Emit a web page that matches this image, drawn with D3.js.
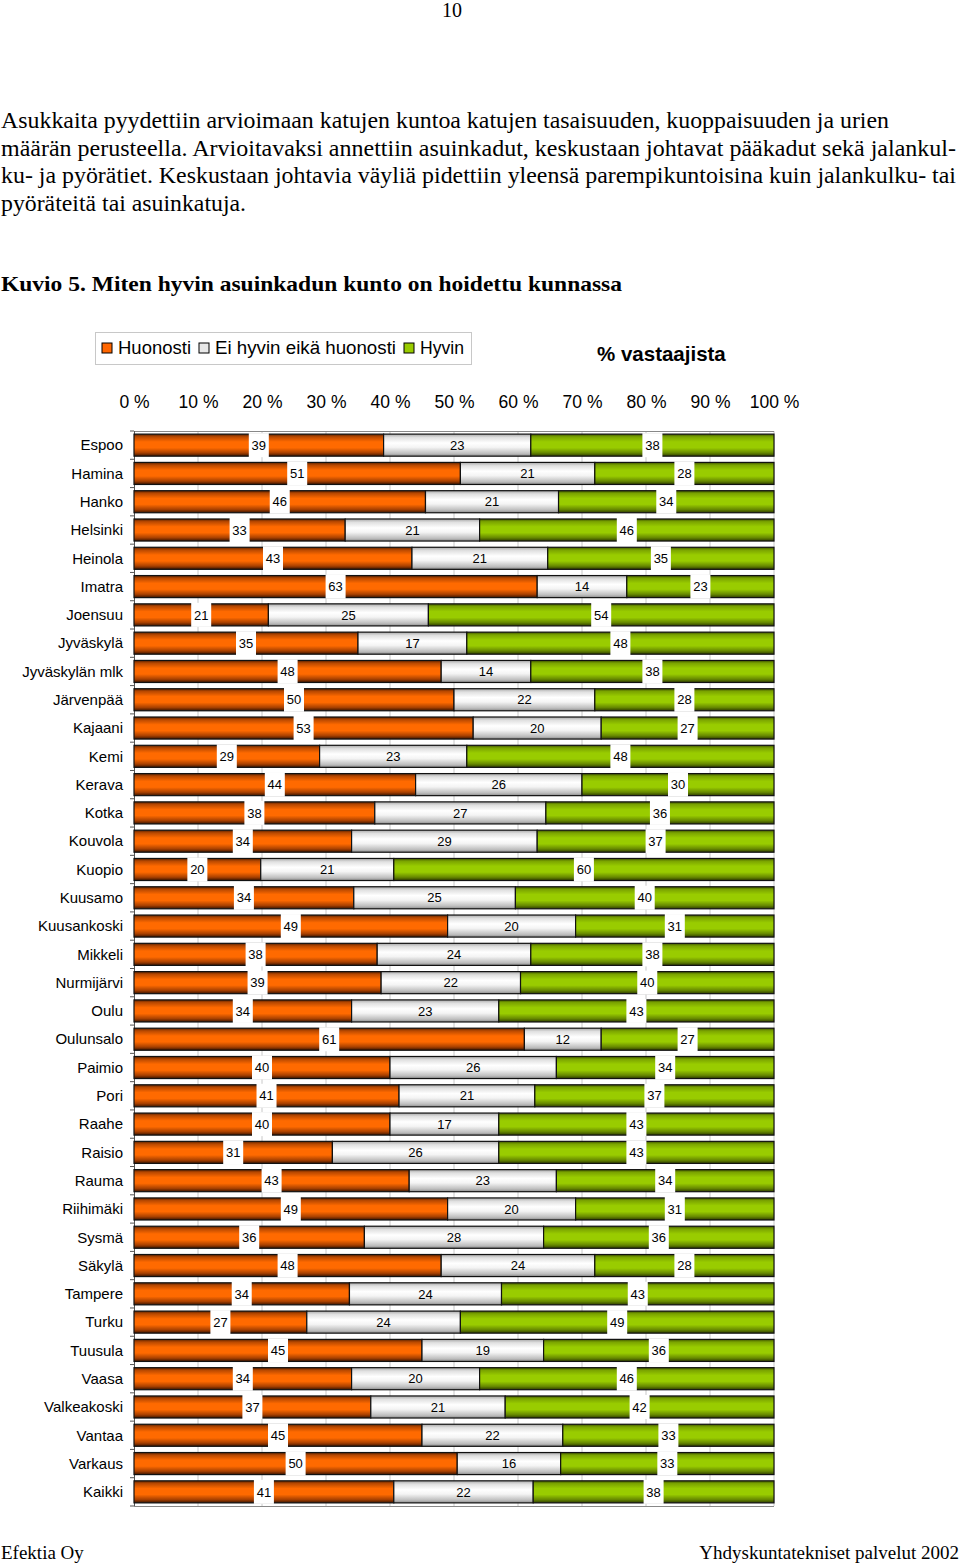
<!DOCTYPE html>
<html><head><meta charset="utf-8">
<script src="https://cdn.jsdelivr.net/npm/d3@7"></script>
<style>body{margin:0;background:#fff}svg{display:block}</style>
</head><body>
<svg id="c" width="960" height="1564"></svg>
<script>
const categories = ["Espoo","Hamina","Hanko","Helsinki","Heinola","Imatra","Joensuu","Jyväskylä","Jyväskylän mlk","Järvenpää","Kajaani","Kemi","Kerava","Kotka","Kouvola","Kuopio","Kuusamo","Kuusankoski","Mikkeli","Nurmijärvi","Oulu","Oulunsalo","Paimio","Pori","Raahe","Raisio","Rauma","Riihimäki","Sysmä","Säkylä","Tampere","Turku","Tuusula","Vaasa","Valkeakoski","Vantaa","Varkaus","Kaikki"];
const huonosti = [39,51,46,33,43,63,21,35,48,50,53,29,44,38,34,20,34,49,38,39,34,61,40,41,40,31,43,49,36,48,34,27,45,34,37,45,50,41];
const eiHyvinEikaHuonosti = [23,21,21,21,21,14,25,17,14,22,20,23,26,27,29,21,25,20,24,22,23,12,26,21,17,26,23,20,28,24,24,24,19,20,21,22,16,22];
const hyvin = [38,28,34,46,35,23,54,48,38,28,27,48,30,36,37,60,40,31,38,40,43,27,34,37,43,43,34,31,36,28,43,49,36,46,42,33,33,38];
const seriesNames = ["Huonosti","Ei hyvin eikä huonosti","Hyvin"];
const tickValues = [0,10,20,30,40,50,60,70,80,90,100];

const svg = d3.select("#c");
const defs = svg.append("defs");
function grad(id, stops){
  const g = defs.append("linearGradient").attr("id",id).attr("x1",0).attr("y1",0).attr("x2",0).attr("y2",1);
  stops.forEach(s=>g.append("stop").attr("offset",s[0]).attr("stop-color",s[1]));
}
grad("gO",[[0,"#5a2200"],[0.12,"#b84800"],[0.35,"#ff6a00"],[0.62,"#ff6a00"],[0.85,"#a84000"],[1,"#3a1400"]]);
grad("gG",[[0,"#3e5200"],[0.12,"#7aa300"],[0.35,"#99cc00"],[0.62,"#99cc00"],[0.85,"#668800"],[1,"#2e3c00"]]);
grad("gW",[[0,"#a8a8a8"],[0.15,"#e0e0e0"],[0.4,"#ffffff"],[0.6,"#f4f4f4"],[0.88,"#bdbdbd"],[1,"#8a8a8a"]]);
const fills = ["url(#gO)","url(#gW)","url(#gG)"];
const swatch = ["#ff6600","#e8e8e8","#99cc00"];

// Header text
const serif = "'Liberation Serif','Times New Roman',serif";
svg.append("text").attr("x",452).attr("y",17).attr("text-anchor","middle").attr("font-family",serif).attr("font-size",20).text("10");
const para = [
 ["Asukkaita pyydettiin arvioimaan katujen kuntoa katujen tasaisuuden, kuoppaisuuden ja urien",888],
 ["määrän perusteella. Arvioitavaksi annettiin asuinkadut, keskustaan johtavat pääkadut sekä jalankul-",955],
 ["ku- ja pyörätiet. Keskustaan johtavia väyliä pidettiin yleensä parempikuntoisina kuin jalankulku- tai",955],
 ["pyöräteitä tai asuinkatuja.",245]
];
para.forEach((p,i)=>{
  svg.append("text").attr("x",1).attr("y",128+i*27.5).attr("font-family",serif).attr("font-size",23)
    .attr("textLength",p[1]).attr("lengthAdjust","spacingAndGlyphs").text(p[0]);
});
svg.append("text").attr("x",1).attr("y",291).attr("font-family",serif).attr("font-size",22).attr("font-weight","bold")
  .attr("textLength",621).attr("lengthAdjust","spacingAndGlyphs").text("Kuvio 5. Miten hyvin asuinkadun kunto on hoidettu kunnassa");

// Footer
svg.append("text").attr("x",1).attr("y",1559).attr("font-family",serif).attr("font-size",19).text("Efektia Oy");
svg.append("text").attr("x",959).attr("y",1559).attr("text-anchor","end").attr("font-family",serif).attr("font-size",19).text("Yhdyskuntatekniset palvelut 2002");

const sans = "'Liberation Sans',Arial,sans-serif";
// Legend
const lg = svg.append("g");
lg.append("rect").attr("x",95.5).attr("y",332.5).attr("width",376).attr("height",32).attr("fill","#fff").attr("stroke","#c8c8c8");
const legX = [102,199,404];
const legW = [73,181,44];
seriesNames.forEach((n,i)=>{
  lg.append("rect").attr("x",legX[i]).attr("y",343).attr("width",10).attr("height",10).attr("fill",swatch[i]).attr("stroke","#000").attr("stroke-width",1);
  lg.append("text").attr("x",legX[i]+16).attr("y",354).attr("font-family",sans).attr("font-size",18)
    .attr("textLength",legW[i]).attr("lengthAdjust","spacingAndGlyphs").text(n);
});
svg.append("text").attr("x",597).attr("y",361).attr("font-family",sans).attr("font-size",20.5).attr("font-weight","bold").text("% vastaajista");

// Scales
const x = d3.scaleLinear().domain([0,100]).range([134,774]);
const y = d3.scaleBand().domain(categories).range([431,1506]).paddingInner(0.22).paddingOuter(0.11);

// gridlines
const plot = svg.append("g");
plot.selectAll("line.grid").data(tickValues.slice(1)).join("line")
  .attr("x1",d=>x(d)).attr("x2",d=>x(d)).attr("y1",431).attr("y2",1506).attr("stroke","#c8c8c8").attr("stroke-width",1);
plot.append("line").attr("x1",134).attr("x2",774).attr("y1",431.5).attr("y2",431.5).attr("stroke","#888");
plot.append("line").attr("x1",134).attr("x2",774).attr("y1",1506.5).attr("y2",1506.5).attr("stroke","#888");

// top axis
const ax = svg.append("g").attr("transform","translate(0,408)")
  .call(d3.axisTop(x).tickValues(tickValues).tickFormat(d=>d+" %").tickSize(0).tickPadding(0));
ax.select(".domain").remove();
ax.selectAll("text").attr("font-family",sans).attr("font-size",17.5).attr("fill","#000");

// left axis labels
const ay = svg.append("g").attr("transform","translate(134,0)")
  .call(d3.axisLeft(y).tickSize(0).tickPadding(11));
ay.selectAll("text").attr("font-family",sans).attr("font-size",15).attr("fill","#000").attr("dy","0.35em");
ay.select(".domain").remove();
const step = y.step();
svg.append("line").attr("x1",134.5).attr("x2",134.5).attr("y1",431).attr("y2",1506).attr("stroke","#555");
svg.selectAll("line.ytick").data(d3.range(categories.length+1)).join("line")
  .attr("x1",130).attr("x2",134).attr("y1",i=>431+i*step).attr("y2",i=>431+i*step).attr("stroke","#555");

// data
const rows = categories.map((c,i)=>{
  const v = [huonosti[i],eiHyvinEikaHuonosti[i],hyvin[i]];
  const tot = d3.sum(v);
  let acc = 0;
  return v.map((val,k)=>{ const s = acc/tot*100; acc += val; return {cat:c,k,val,s,e:acc/tot*100}; });
});
const segs = rows.flat();
const bh = y.bandwidth();
svg.append("g").selectAll("rect").data(segs).join("rect")
  .attr("x",d=>x(d.s)).attr("width",d=>x(d.e)-x(d.s))
  .attr("y",d=>y(d.cat)).attr("height",bh)
  .attr("fill",d=>fills[d.k]).attr("stroke","#111").attr("stroke-width",1.2);

const lab = svg.append("g");
segs.forEach(d=>{
  const cx = (x(d.s)+x(d.e))/2, cy = y(d.cat)+bh/2;
  if(d.k!==1){
    lab.append("rect").attr("x",cx-10).attr("y",y(d.cat)-1).attr("width",20).attr("height",bh+2).attr("fill","#fff");
  }
  lab.append("text").attr("x",cx).attr("y",cy).attr("dy","0.36em").attr("text-anchor","middle")
    .attr("font-family",sans).attr("font-size",13).attr("fill","#000").text(d.val);
});
</script>
</body></html>
